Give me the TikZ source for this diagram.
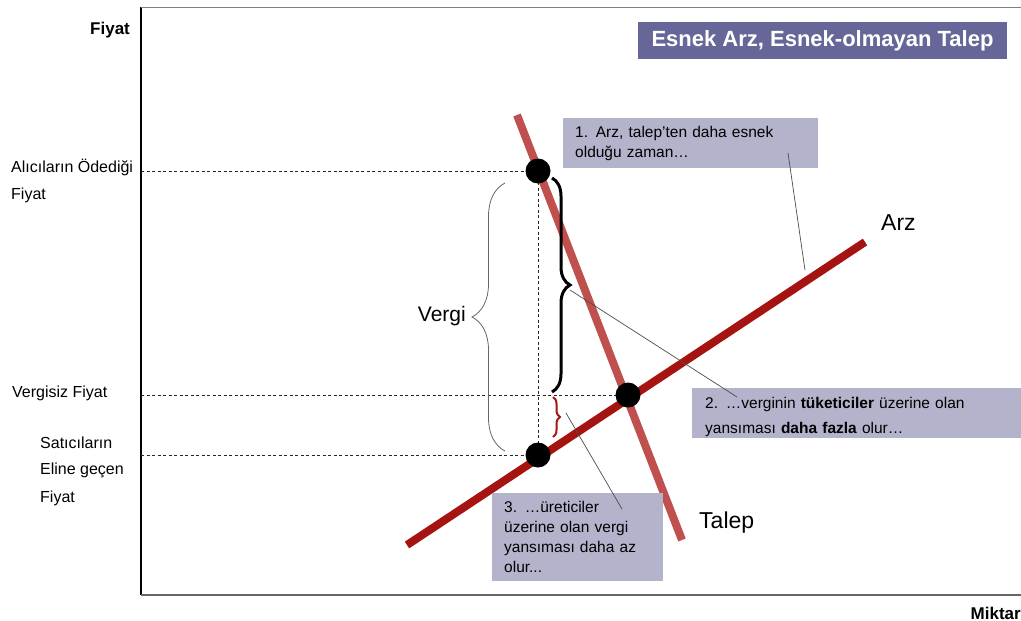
\documentclass[tikz,border=0pt]{standalone}
\usepackage{fontspec}
\setmainfont{Liberation Sans}
\usetikzlibrary{decorations.pathreplacing}
\definecolor{demandc}{RGB}{192,80,77}
\definecolor{supplyc}{RGB}{165,20,16}
\definecolor{boxc}{RGB}{179,179,204}
\definecolor{titlec}{RGB}{102,102,153}
\begin{document}
\begin{tikzpicture}[x=1pt,y=-1pt,
  lbl/.style={inner sep=0, font=\fontsize{16}{18}\selectfont, anchor=west},
  axlbl/.style={inner sep=0, font=\fontsize{17}{20}\selectfont\bfseries},
  curvelbl/.style={inner sep=0, font=\fontsize{23}{26}\selectfont, anchor=west},
  callbox/.style={fill=boxc, draw=none, anchor=north west, align=left, inner ysep=0},
  dot/.style={circle, fill=black, minimum size=25pt, inner sep=0},
  guide/.style={dash pattern=on 3pt off 2.5pt, line width=0.7pt, black!85},
  pointer/.style={line width=0.7pt, black!70},
  curve/.style={line width=8pt},
  bracestyle/.style={decorate, decoration={brace, amplitude=#1}},
]
\useasboundingbox (0,0) rectangle (1021,621);
% frame
\draw[line width=1.5pt] (141,7) -- (141,595);
\draw[gray, line width=1pt] (141,7) -- (1021,7);
\draw[black!60, line width=2pt] (141,595) -- (1021,595);
% points
\coordinate (buyerP) at (538,171);
\coordinate (eqP) at (628,395);
\coordinate (sellerP) at (538,455);
\coordinate (yB) at (141,171);
\coordinate (yE) at (141,395);
\coordinate (yS) at (141,455);
% dashed guides
\draw[guide] (yB) -- (buyerP);
\draw[guide] (yE) -- (eqP);
\draw[guide] (yS) -- (sellerP);
\draw[guide] (buyerP) -- (sellerP);
% curves
\coordinate (dTop) at (517,115);
\coordinate (dBot) at (682,540);
\coordinate (sTop) at (865,242);
\coordinate (sBot) at (407,545);
\draw[curve, demandc] (dTop) -- (dBot);
\draw[curve, supplyc] (sBot) -- (sTop);
% dots
\node[dot] (buyer) at (buyerP) {};
\node[dot] (eq) at (eqP) {};
\node[dot] (seller) at (sellerP) {};
% braces
\draw[bracestyle=33pt, black!60, line width=0.8pt] (505,451) -- (505,183);
\draw[bracestyle=18pt, line width=3pt] (552,178) -- (552,392);
\draw[bracestyle=7pt, supplyc, line width=2pt] (553,397) -- (553,437);
\node[inner sep=0, font=\fontsize{21}{24}\selectfont, anchor=east] (vergi) at (466,316) {Vergi};
% title
\node[fill=titlec, text=white, font=\fontsize{22}{25}\selectfont\bfseries, minimum width=369pt, minimum height=37pt, inner sep=0] (title) at (822.5,40.5) {Esnek Arz, Esnek-olmayan Talep};
% callout boxes
\node[callbox, minimum width=255pt, minimum height=50pt, text width=231pt, inner xsep=12pt, font=\fontsize{15.5}{20}\selectfont] (box1) at (563,118) {1. Arz, talep’ten daha esnek\\olduğu zaman…};
\node[callbox, minimum width=329pt, minimum height=50pt, text width=303pt, inner xsep=13pt, font=\fontsize{15.5}{25}\selectfont] (box2) at (692,388) {\rule{0pt}{19pt}2. …verginin \textbf{tüketiciler} üzerine olan\\yansıması \textbf{daha fazla} olur…};
\node[callbox, minimum width=171pt, minimum height=88pt, text width=147pt, inner xsep=12pt, font=\fontsize{15.5}{20}\selectfont] (box3) at (492,493) {3. …üreticiler\\üzerine olan vergi\\yansıması daha az\\olur...};
% pointer lines
\coordinate (p1a) at (788,153);
\coordinate (p1b) at (805,270);
\coordinate (p2a) at (570,290);
\coordinate (p2b) at (737,397);
\coordinate (p3a) at (566,413);
\coordinate (p3b) at (622,509);
\draw[pointer] (p1a) -- (p1b);
\draw[pointer] (p2a) -- (p2b);
\draw[pointer] (p3a) -- (p3b);
% curve labels
\node[curvelbl] (arz) at (881,223) {Arz};
\node[curvelbl] (talep) at (699,523) {Talep};
% axis labels
\node[axlbl, anchor=west] (fiyatAx) at (90,30) {Fiyat};
\node[axlbl, anchor=east] (miktarAx) at (1021,613) {Miktar};
% price labels
\node[lbl] (alici1) at (11,167) {Alıcıların Ödediği};
\node[lbl] (alici2) at (11,195) {Fiyat};
\node[lbl] (vergisiz) at (12,393) {Vergisiz Fiyat};
\node[lbl] (satici1) at (40,443) {Satıcıların};
\node[lbl] (satici2) at (40,470) {Eline geçen};
\node[lbl] (satici3) at (40,498) {Fiyat};
\end{tikzpicture}
\end{document}
